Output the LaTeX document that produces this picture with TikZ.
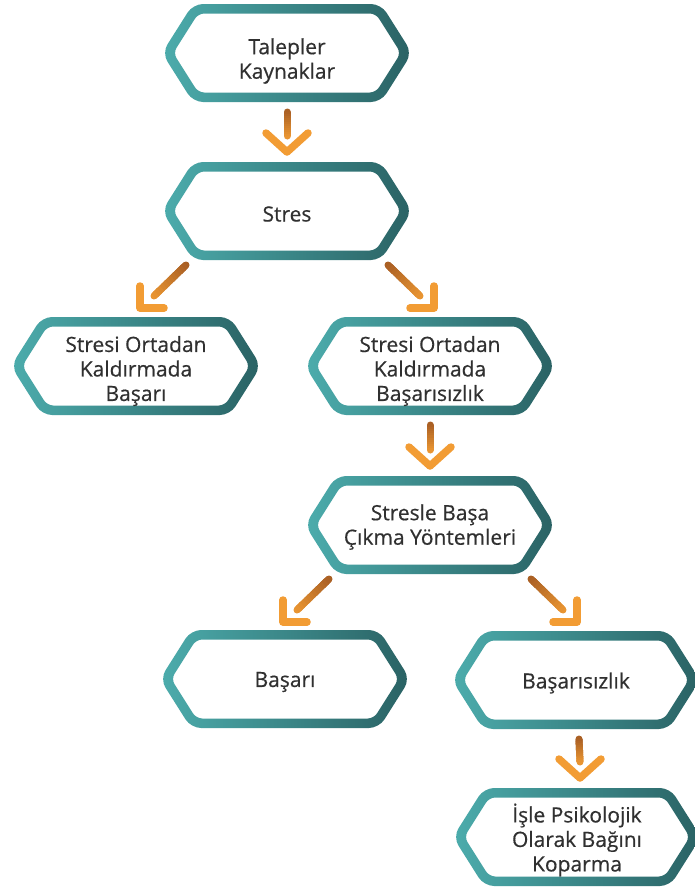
\documentclass[tikz,border=0pt]{standalone}
\usepackage{fontspec}
\setmainfont{Open Sans}
\newfontfamily\boxfont{Open Sans}[FakeBold=0.5]
\usetikzlibrary{calc}
\definecolor{tealL}{RGB}{76,172,172}
\definecolor{tealD}{RGB}{42,98,100}
\definecolor{arrB}{RGB}{170,96,36}
\definecolor{arrO}{RGB}{242,156,52}
\definecolor{txtc}{RGB}{48,48,48}
\colorlet{arrE}{arrO!88!arrB}

\tikzset{
  boxtext/.style={font=\boxfont\fontsize{21}{24.5}\selectfont, text=txtc, align=center, inner sep=0pt},
  chev/.style={draw=arrO, line width=7.5pt, line cap=round, line join=round},
  shaft/.style={line width=7pt},
}

% name, cx, cy, W, text dy, text
\newcommand\hexbox[6]{%
  \pgfmathsetmacro\hxH{49}%
  \pgfmathsetmacro\hxD{31}%
  \pgfmathsetmacro\hxT{9.5}%
  \pgfmathsetmacro\hxS{\hxT/sin(atan(\hxH/\hxD))}%
  \pgfmathsetmacro\hxHi{\hxH-\hxT}%
  \pgfmathsetmacro\hxDi{\hxD*\hxHi/\hxH}%
  \coordinate (#1c) at (#2,#3);
  \shade[left color=tealL, right color=tealD, even odd rule, rounded corners=10pt]
    (#2,#3-\hxH) -- (#2+#4-\hxD,#3-\hxH) -- (#2+#4,#3) -- (#2+#4-\hxD,#3+\hxH)
    -- (#2-#4+\hxD,#3+\hxH) -- (#2-#4,#3) -- (#2-#4+\hxD,#3-\hxH) -- cycle
    [rounded corners=6pt]
    (#2,#3-\hxHi) -- (#2+#4-\hxS-\hxDi,#3-\hxHi) -- (#2+#4-\hxS,#3) -- (#2+#4-\hxS-\hxDi,#3+\hxHi)
    -- (#2-#4+\hxS+\hxDi,#3+\hxHi) -- (#2-#4+\hxS,#3) -- (#2-#4+\hxS+\hxDi,#3-\hxHi) -- cycle;
  \node[boxtext] (#1) at (#2,#3+#5) {#6};
}

% gradient shaft between two named coordinates
\newcommand\gradshaft[2]{%
  \draw[shaft, arrB, line cap=round] (#1) -- ($(#1)!0.5!(#2)$);
  \draw[shaft, arrE, line cap=round] ($(#1)!0.5!(#2)$) -- (#2);
  \foreach \i in {0,...,11}{%
    \pgfmathsetmacro\fa{\i/12}%
    \pgfmathsetmacro\fb{min((\i+1.3)/12,1)}%
    \pgfmathtruncatemacro\pp{100*(\i+0.5)/12}%
    \draw[shaft, color=arrE!\pp!arrB] ($(#1)!\fa!(#2)$) -- ($(#1)!\fb!(#2)$);
  }
}

% vertical arrow: from, to, x offset
\newcommand\varrow[3]{%
  \coordinate (#1-#2-s) at ($(#1c)+(#3,59)$);
  \coordinate (#1-#2-a) at ($(#2c)+(#3,-59)$);
  \coordinate (#1-#2-e) at ($(#1-#2-a)+(0,-16)$);
  \gradshaft{#1-#2-s}{#1-#2-e}
  \draw[chev] ($(#1-#2-a)+(-21,-19)$) -- (#1-#2-a) -- ($(#1-#2-a)+(21,-19)$);
}

% diagonal arrow: from, to, sign (-1 left, 1 right)
\newcommand\darrow[3]{%
  \coordinate (#1-#2-s) at ($(#1c)+(#3*101,54)$);
  \coordinate (#1-#2-e) at ($(#1c)+(#3*133,85)$);
  \coordinate (#1-#2-a) at ($(#1c)+(#3*147,97)$);
  \gradshaft{#1-#2-s}{#1-#2-e}
  \draw[chev] ($(#1-#2-a)+(0,-22)$) -- (#1-#2-a) -- ($(#1-#2-a)+(#3*-24,0)$);
}

\begin{document}
\begin{tikzpicture}[x=1pt,y=-1pt]
\fill[white] (0,0) rectangle (695,887);
\useasboundingbox (0,0) rectangle (695,887);

\hexbox{b1}{287}{53}{125}{8}{Talepler\\Kaynaklar}
\hexbox{b2}{287}{211}{125}{3}{Stres}
\hexbox{b3}{136}{366}{125}{5}{Stresi Ortadan\\Kaldırmada\\Başarı}
\hexbox{b4}{430}{366}{125}{5}{Stresi Ortadan\\Kaldırmada\\Başarısızlık}
\hexbox{b5}{430}{525}{125}{2}{Stresle Başa\\Çıkma Yöntemleri}
\hexbox{b6}{285}{679}{125}{3}{Başarı}
\hexbox{b7}{576}{680}{124}{3}{Başarısızlık}
\hexbox{b8}{577}{837}{124}{3}{İşle Psikolojik\\Olarak Bağını\\Koparma}

\varrow{b1}{b2}{0}
\darrow{b2}{b3}{-1}
\darrow{b2}{b4}{1}
\varrow{b4}{b5}{0}
\darrow{b5}{b6}{-1}
\darrow{b5}{b7}{1}
\varrow{b7}{b8}{3}
\end{tikzpicture}
\end{document}
